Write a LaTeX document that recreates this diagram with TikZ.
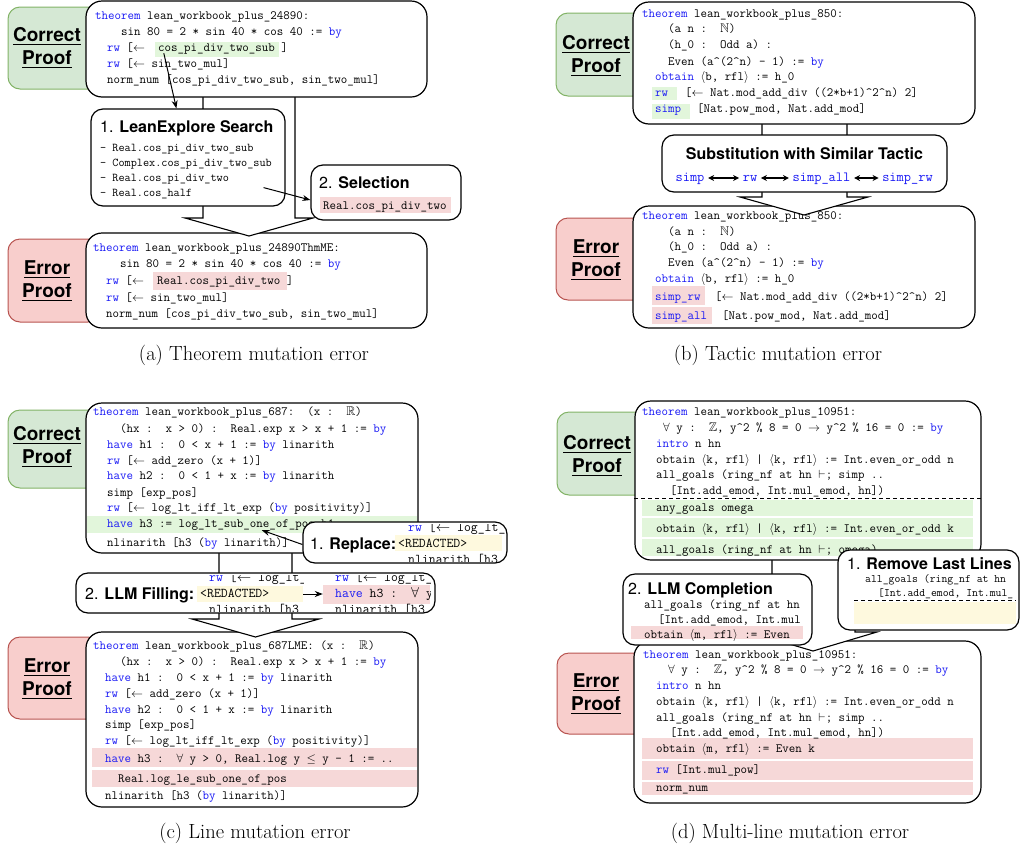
\documentclass[tikz,border=0pt]{standalone}
\usepackage{amssymb}
\usepackage{fontspec}
\newfontfamily\hv{TeX Gyre Heros}
\usetikzlibrary{fit,arrows.meta}
\definecolor{gfill}{RGB}{213,232,212}
\definecolor{gborder}{RGB}{130,179,102}
\definecolor{rfill}{RGB}{248,206,204}
\definecolor{rborder}{RGB}{184,84,80}
\definecolor{hlg}{RGB}{226,246,219}
\definecolor{hlr}{RGB}{246,216,216}
\definecolor{hly}{RGB}{254,249,222}
\definecolor{kwblue}{RGB}{25,25,245}
\newcommand\kw[1]{\textcolor{kwblue}{#1}}
\newcounter{cl}
\newcommand\CL[4][]{\stepcounter{cl}\node[codeline,#1] (t\number\value{cl}) at (#2,#3) {#4};}
\newcommand\codefont{\ttfamily\fontsize{12.6}{16}\selectfont}
\newcommand\la{$\leftarrow$}
\newcommand\lang{$\langle$}
\newcommand\rang{$\rangle$}
\newcommand\crt{\textasciicircum}
\begin{document}
\begin{tikzpicture}[x=1pt,y=-1pt,
  codeline/.style={anchor=base west, inner sep=0pt, font=\codefont},
  smallcode/.style={font=\ttfamily\fontsize{11.9}{14}\selectfont},
  snipcode/.style={font=\ttfamily\fontsize{13.4}{14}\selectfont},
  tinycode/.style={font=\ttfamily\fontsize{11.4}{14}\selectfont},
  lbltxt/.style={font=\hv\bfseries\fontsize{19}{23}\selectfont, align=center, inner sep=0pt},
  ttl/.style={font=\hv\fontsize{16}{19}\selectfont, anchor=base west, inner sep=0pt},
  captxt/.style={font=\fontsize{20.5}{24}\selectfont, inner sep=0pt},
  lblbox/.style={rounded corners=12pt, line width=1pt, inner sep=0pt},
  goodlbl/.style={lblbox, draw=gborder, fill=gfill},
  badlbl/.style={lblbox, draw=rborder, fill=rfill},
  codebox/.style={draw=black, fill=white, rounded corners=16pt, line width=1.2pt, inner sep=0pt},
  stepbox/.style={draw=black, fill=white, rounded corners=12pt, line width=1.2pt, inner sep=0pt},
  hlbox/.style={fill=#1, inner sep=0pt},
  blockarrow/.style={draw=black, fill=white, line width=1.1pt, line join=miter},
  arr/.style={-{Stealth[length=8pt,width=6pt]}, line width=1pt},
  dbl/.style={{Stealth[length=6pt,width=6pt]}-{Stealth[length=6pt,width=6pt]}, line width=1.3pt},
  kwn/.style={font=\ttfamily\fontsize{14}{16}\selectfont, text=kwblue, inner sep=3.5pt, text height=9pt, text depth=3pt, anchor=base},
]
\useasboundingbox (0,0) rectangle (1020,852);

% ================= (a) =================
\node[goodlbl, fit={(8,7)(100,89)}] (aCorr) {};
\node[lbltxt] (aCorrT) at (47,47.5) {\underline{Correct}\\\underline{Proof}};
\node[badlbl, fit={(8,239)(100,322)}] (aErr) {};
\node[lbltxt] (aErrT) at (47,281) {\underline{Error}\\\underline{Proof}};
\node[codebox, fit={(86,233)(427,328)}] (aBot) {};
\fill[hlr] (153,272) rectangle (287,290);
\CL{93}{251}{\kw{theorem} lean\_workbook\_plus\_24890ThmME:}
\CL{120}{267}{sin 80 = 2 * sin 40 * cos 40 := \kw{by}}
\CL{106}{284}{\kw{rw} [\la\ \ Real.cos\_pi\_div\_two ]}
\CL{106}{301}{\kw{rw} [\la\ sin\_two\_mul]}
\CL{106}{317}{norm\_num [cos\_pi\_div\_two\_sub, sin\_two\_mul]}
\draw[blockarrow] (203,92) -- (203,218) -- (185,218) -- (249,236) -- (313,218) -- (295,218) -- (295,92);
\node[codebox, fit={(86,1)(427,97)}] (aTop) {};
\node[hlbox=hlg, fit={(155,42)(279,57)}] (aHl) {};
\CL{95}{19}{\kw{theorem} lean\_workbook\_plus\_24890:}
\CL{121}{35}{sin 80 = 2 * sin 40 * cos 40 := \kw{by}}
\CL{107}{51}{\kw{rw} [\la\ \ cos\_pi\_div\_two\_sub ]}
\CL{107}{67}{\kw{rw} [\la\ sin\_two\_mul]}
\CL{107}{83}{norm\_num [cos\_pi\_div\_two\_sub, sin\_two\_mul]}
\node[stepbox, fit={(91,109)(285,206)}] (aSearch) {};
\node[ttl] (aSearchT) at (100,132) {1. \textbf{LeanExplore Search}};
\CL[smallcode]{100}{151}{- Real.cos\_pi\_div\_two\_sub}
\CL[smallcode]{100}{166}{- Complex.cos\_pi\_div\_two\_sub}
\CL[smallcode]{100}{181}{- Real.cos\_pi\_div\_two}
\CL[smallcode]{100}{196}{- Real.cos\_half}
\node[stepbox, fit={(311,165)(461,220)}] (aSel) {};
\node[ttl] (aSelT) at (319,188) {2. \textbf{Selection}};
\node[hlbox=hlr, fit={(320,197)(451,213)}] (aSelHl) {};
\CL{323}{209}{Real.cos\_pi\_div\_two}
\draw[arr] ([xshift=9pt,yshift=4pt]aHl.south west) -- ([xshift=86pt]aSearch.north west);
\draw[arr] ([xshift=-22pt,yshift=19pt]aSearch.south east) -- ([yshift=-7.5pt]aSel.west);
\node[captxt] (aCap) at (254,355) {(a) Theorem mutation error};

% ================= (b) =================
\node[goodlbl, fit={(556,13)(650,96)}] (bCorr) {};
\node[lbltxt] (bCorrT) at (596,56) {\underline{Correct}\\\underline{Proof}};
\node[badlbl, fit={(556,218)(650,300)}] (bErr) {};
\node[lbltxt] (bErrT) at (596,260) {\underline{Error}\\\underline{Proof}};
\node[codebox, fit={(633,206)(975,328)}] (bBot) {};
\fill[hlr] (652,286) rectangle (705,305);
\fill[hlr] (652,307) rectangle (712,324);
\CL{642}{219}{\kw{theorem} lean\_workbook\_plus\_850:}
\CL{668}{235}{(a n :\ \ $\mathbb{N}$)}
\CL{668}{250}{(h\_0 :\ \ Odd a) :}
\CL{668}{266}{Even (a\crt(2\crt n) - 1) := \kw{by}}
\CL{655}{282}{\kw{obtain} \lang b, rfl\rang\ := h\_0}
\CL{655}{300}{\kw{simp\_rw}}
\CL{715}{300}{[\la\ Nat.mod\_add\_div ((2*b+1)\crt 2\crt n) 2]}
\CL{655}{319}{\kw{simp\_all}}
\CL{722}{319}{[Nat.pow\_mod, Nat.add\_mod]}
\draw[blockarrow] (762,119) -- (762,197) -- (740,197) -- (804,215) -- (868,197) -- (847,197) -- (847,119);
\node[codebox, fit={(633,2)(975,124)}] (bTop) {};
\fill[hlg] (652,87) rectangle (677,100);
\fill[hlg] (652,104) rectangle (690,119);
\CL{642}{17}{\kw{theorem} lean\_workbook\_plus\_850:}
\CL{668}{32}{(a n :\ \ $\mathbb{N}$)}
\CL{668}{48}{(h\_0 :\ \ Odd a) :}
\CL{668}{65}{Even (a\crt(2\crt n) - 1) := \kw{by}}
\CL{655}{80}{\kw{obtain} \lang b, rfl\rang\ := h\_0}
\CL{655}{96}{\kw{rw}}
\CL{685}{96}{[\la\ Nat.mod\_add\_div ((2*b+1)\crt 2\crt n) 2]}
\CL{655}{112}{\kw{simp}}
\CL{697}{112}{[Nat.pow\_mod, Nat.add\_mod]}
\node[stepbox, fit={(662,135)(947,192)}] (bSub) {};
\node[ttl, anchor=base] (bSubT) at (804.5,159) {\textbf{Substitution with Similar Tactic}};
\node[kwn] (bS1) at (690,181) {simp};
\node[kwn] (bS2) at (750,181) {rw};
\node[kwn] (bS3) at (821.5,181) {simp\_all};
\node[kwn] (bS4) at (907.5,181) {simp\_rw};
\draw[dbl] (bS1) -- (bS2);
\draw[dbl] (bS2) -- (bS3);
\draw[dbl] (bS3) -- (bS4);
\node[captxt] (bCap) at (778,355) {(b) Tactic mutation error};

% ================= (c) =================
\node[goodlbl, fit={(8,410)(100,488)}] (cCorr) {};
\node[lbltxt] (cCorrT) at (47,447) {\underline{Correct}\\\underline{Proof}};
\node[badlbl, fit={(8,637)(100,719)}] (cErr) {};
\node[lbltxt] (cErrT) at (47,679.5) {\underline{Error}\\\underline{Proof}};
\node[codebox, fit={(86,632)(418,807)}] (cBot) {};
\fill[hlr] (92,748) rectangle (417,767);
\fill[hlr] (92,770) rectangle (417,787);
\CL{93}{649}{\kw{theorem} lean\_workbook\_plus\_687LME: (x :\ \ $\mathbb{R}$)}
\CL{120}{665}{(hx :\ \ x > 0) :\ \ Real.exp x > x + 1 := \kw{by}}
\CL{105}{681}{\kw{have} h1 :\ \ 0 < x + 1 := \kw{by} linarith}
\CL{105}{697}{\kw{rw} [\la\ add\_zero (x + 1)]}
\CL{105}{713}{\kw{have} h2 :\ \ 0 < 1 + x := \kw{by} linarith}
\CL{105}{728}{simp [exp\_pos]}
\CL{105}{744}{\kw{rw} [\la\ log\_lt\_iff\_lt\_exp (\kw{by} positivity)]}
\CL{105}{762}{\kw{have} h3 :\ \ $\forall$ y > 0, Real.log y $\leq$ y - 1 := ..}
\CL{118}{782}{Real.log\_le\_sub\_one\_of\_pos}
\CL{105}{799}{nlinarith [h3 (\kw{by} linarith)]}
\draw[blockarrow] (219,548) -- (219,619) -- (192,619) -- (255.5,637) -- (319,619) -- (292,619) -- (292,548);
\node[codebox, fit={(86,403)(418,553)}] (cTop) {};
\node[hlbox=hlg, fit={(87,516)(417,533)}] (cHl) {};
\CL{93}{415}{\kw{theorem} lean\_workbook\_plus\_687:\ \ (x :\ \ $\mathbb{R}$)}
\CL{120}{432}{(hx :\ \ x > 0) :\ \ Real.exp x > x + 1 := \kw{by}}
\CL{107}{448}{\kw{have} h1 :\ \ 0 < x + 1 := \kw{by} linarith}
\CL{107}{464}{\kw{rw} [\la\ add\_zero (x + 1)]}
\CL{107}{479}{\kw{have} h2 :\ \ 0 < 1 + x := \kw{by} linarith}
\CL{107}{496}{simp [exp\_pos]}
\CL{107}{511}{\kw{rw} [\la\ log\_lt\_iff\_lt\_exp (\kw{by} positivity)]}
\CL{107}{527}{\kw{have} h3 := log\_lt\_sub\_one\_of\_pos h1}
\CL{107}{546}{nlinarith [h3 (\kw{by} linarith)]}
\node[stepbox, fit={(303,522)(507,563)}] (cRep) {};
\node[ttl] (cRepT) at (310,549) {1. \textbf{Replace:}};
\node[hlbox=hly, fit={(395,535)(502,551)}] (cRepY) {};
\begin{scope}
\clip (395,524) rectangle (504,561);
\CL[snipcode]{408}{531}{\kw{rw} [\la\ log\_lt\_}
\CL[snipcode]{398}{547}{<REDACTED>}
\CL[snipcode]{408}{563}{nlinarith [h3}
\end{scope}
\draw[arr] ([yshift=-2pt]cRep.west) -- ([xshift=175pt,yshift=3pt]cHl.south west);
\node[stepbox, fit={(76,573)(435,613)}] (cFill) {};
\node[ttl] (cFillT) at (85,599) {2. \textbf{LLM Filling:}};
\node[hlbox=hly, fit={(197,586)(303,602)}] (cY) {};
\node[hlbox=hlr, fit={(323,585)(430,604)}] (cP) {};
\begin{scope}
\clip (197,575) rectangle (303,611);
\CL[snipcode]{209}{581}{\kw{rw} [\la\ log\_lt\_}
\CL[snipcode]{200}{597}{<REDACTED>}
\CL[snipcode]{209}{613}{nlinarith [h3}
\end{scope}
\begin{scope}
\clip (323,575) rectangle (430,611);
\CL[snipcode]{335}{581}{\kw{rw} [\la\ log\_lt\_i}
\CL[snipcode]{335}{597}{\kw{have} h3 :\ \ $\forall$ y}
\CL[snipcode]{335}{613}{nlinarith [h3 (}
\end{scope}
\draw[arr] (cY.east) -- (cY.east -| cP.west);
\node[captxt] (cCap) at (255,833) {(c) Line mutation error};

% ================= (d) =================
\node[goodlbl, fit={(557,412)(650,495)}] (dCorr) {};
\node[lbltxt] (dCorrT) at (597,455.5) {\underline{Correct}\\\underline{Proof}};
\node[badlbl, fit={(557,653)(650,734)}] (dErr) {};
\node[lbltxt] (dErrT) at (596,694) {\underline{Error}\\\underline{Proof}};
\node[codebox, fit={(634,641)(981,803)}] (dBot) {};
\fill[hlr] (642,738) rectangle (973,759);
\fill[hlr] (642,761) rectangle (973,780);
\fill[hlr] (642,782) rectangle (973,795);
\CL{643}{658}{\kw{theorem} lean\_workbook\_plus\_10951:}
\CL{668}{673}{$\forall$ y :\ \ $\mathbb{Z}$, y\crt 2 \% 8 = 0 $\rightarrow$ y\crt 2 \% 16 = 0 := \kw{by}}
\CL{656}{689}{\kw{intro} n hn}
\CL{656}{705}{obtain \lang k, rfl\rang\ | \lang k, rfl\rang\ := Int.even\_or\_odd n}
\CL{656}{721}{all\_goals (ring\_nf at hn $\vdash$; simp ..}
\CL{670}{736}{[Int.add\_emod, Int.mul\_emod, hn])}
\CL{656}{752}{obtain \lang m, rfl\rang\ := Even k}
\CL{656}{773}{\kw{rw} [Int.mul\_pow]}
\CL{656}{791}{norm\_num}
\draw[blockarrow] (772,555) -- (772,632) -- (749,632) -- (813,651) -- (877,632) -- (855,632) -- (855,555);
\node[codebox, fit={(635,401)(981,560)}] (dTop) {};
\fill[hlg] (642,500) rectangle (973,516);
\fill[hlg] (642,518) rectangle (973,537);
\fill[hlg] (642,539) rectangle (973,556);
\draw[dash pattern=on 4pt off 3pt, line width=1pt] (dTop.west |- 0,498) -- (dTop.east |- 0,498);
\CL{642}{415}{\kw{theorem} lean\_workbook\_plus\_10951:}
\CL{663}{431}{$\forall$ y :\ \ $\mathbb{Z}$, y\crt 2 \% 8 = 0 $\rightarrow$ y\crt 2 \% 16 = 0 := \kw{by}}
\CL{656}{447}{\kw{intro} n hn}
\CL{656}{463}{obtain \lang k, rfl\rang\ | \lang k, rfl\rang\ := Int.even\_or\_odd n}
\CL{656}{478}{all\_goals (ring\_nf at hn $\vdash$; simp ..}
\CL{670}{494}{[Int.add\_emod, Int.mul\_emod, hn])}
\CL{656}{511}{any\_goals omega}
\CL{656}{532}{obtain \lang k, rfl\rang\ | \lang k, rfl\rang\ := Int.even\_or\_odd k}
\CL{656}{553}{all\_goals (ring\_nf at hn $\vdash$; omega)}
\node[stepbox, fit={(838,550)(1019,630)}] (dRem) {};
\node[ttl] (dRemT) at (847,569) {1. \textbf{Remove Last Lines}};
\begin{scope}
\clip (854,574) rectangle (1016,626);
\fill[hly] (854,602) rectangle (1016,624);
\draw[dash pattern=on 4pt off 3pt, line width=1pt] (854,600) -- (1016,600);
\CL[tinycode]{865}{582}{all\_goals (ring\_nf at hn}
\CL[tinycode]{878}{596}{[Int.add\_emod, Int.mul\_}
\end{scope}
\node[stepbox, fit={(623,574)(812,645)}] (dComp) {};
\node[ttl] (dCompT) at (628,594) {2. \textbf{LLM Completion}};
\begin{scope}
\clip (631,599) rectangle (803,640);
\fill[hlr] (631,626) rectangle (803,639);
\CL{644}{608}{all\_goals (ring\_nf at hn}
\CL{658}{623}{[Int.add\_emod, Int.mul}
\CL{644}{638}{obtain \lang m, rfl\rang\ := Even}
\end{scope}
\node[captxt] (dCap) at (790,833) {(d) Multi-line mutation error};
\end{tikzpicture}
\end{document}
